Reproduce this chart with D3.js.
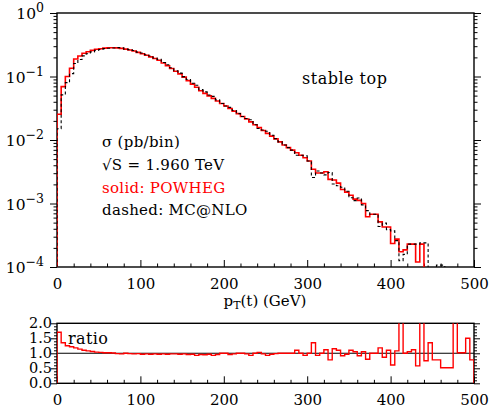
<!DOCTYPE html>
<html>
<head>
<meta charset="utf-8">
<script src="https://cdn.jsdelivr.net/npm/d3@7"></script>
<style>
  body { margin: 0; background: #fff; }
  text { font-family: "DejaVu Serif", serif; fill: #000; }
</style>
</head>
<body>
<div id="chart"></div>
<script>
// 5 GeV bins from 0 to 500 GeV
const binWidth = 5;
const xTicks = [0, 100, 200, 300, 400, 500];
const yTicksExp = [0, -1, -2, -3, -4];
const ratioTicks = ["0.0", "0.5", "1.0", "1.5", "2.0"];

// POWHEG, sigma (pb/bin), solid red
const powheg = [
  0.0254, 0.0692, 0.100, 0.135, 0.189, 0.210, 0.232, 0.246, 0.258, 0.268,
  0.274, 0.280, 0.284, 0.284, 0.282, 0.277, 0.270, 0.262, 0.252, 0.240,
  0.228, 0.216, 0.204, 0.192, 0.180, 0.163, 0.148, 0.134, 0.121, 0.110,
  0.0977, 0.0861, 0.0759, 0.0676, 0.0596, 0.0543, 0.0495, 0.0452, 0.0412, 0.0376,
  0.0343, 0.0313, 0.0285, 0.0260, 0.0234, 0.0214, 0.0193, 0.0174, 0.0157, 0.0141,
  0.0127, 0.0115, 0.0104, 0.00933, 0.00832, 0.00759, 0.00692, 0.00631, 0.00575, 0.00525,
  0.00468, 0.00347, 0.00302, 0.00302, 0.00316, 0.00240, 0.00234, 0.00209, 0.00166, 0.00151,
  0.00135, 0.00117, 0.00112, 0.00100, 0.000617, 0.000676, 0.000676, 0.000513, 0.000427, 0.000427,
  0.000234, 0.000275, 0.000174, 0.000186, 0.000229, 0.000229, 0.000120, 0.000229, 0, 0,
  0, 0, 0, 0, 0, 0, 0, 0, 0, 0
];

// MC@NLO, sigma (pb/bin), dashed black
const mcnlo = [
  0.0150, 0.0513, 0.0800, 0.111, 0.160, 0.185, 0.211, 0.228, 0.244, 0.258,
  0.266, 0.275, 0.278, 0.281, 0.285, 0.283, 0.270, 0.265, 0.257, 0.242,
  0.235, 0.220, 0.210, 0.196, 0.186, 0.166, 0.153, 0.137, 0.123, 0.113,
  0.0997, 0.0897, 0.0782, 0.0727, 0.0621, 0.0572, 0.0510, 0.0486, 0.0429, 0.0376,
  0.0343, 0.0326, 0.0291, 0.0260, 0.0234, 0.0218, 0.0208, 0.0174, 0.0152, 0.0144,
  0.0137, 0.0119, 0.0105, 0.00933, 0.00832, 0.00759, 0.00692, 0.00574, 0.00575, 0.00565,
  0.00468, 0.00257, 0.00325, 0.00302, 0.00282, 0.00308, 0.00203, 0.00190, 0.00180, 0.00156,
  0.00123, 0.00111, 0.00122, 0.000952, 0.000771, 0.000676, 0.000676, 0.000435, 0.000491, 0.000388,
  0.000370, 0.000260, 0.000126, 0.000158, 0.000229, 0.000229, 0.000229, 0.000240, 0.000240, 0,
  0, 0.000107, 0.000107, 0, 0, 0, 0, 0, 0, 0
];

// ratio POWHEG / MC@NLO
const ratio = [
  1.70, 1.35, 1.25, 1.22, 1.18, 1.14, 1.10, 1.08, 1.06, 1.04,
  1.03, 1.02, 1.02, 1.01, 0.99, 0.98, 1.00, 0.99, 0.98, 0.99,
  0.97, 0.98, 0.97, 0.98, 0.97, 0.98, 0.97, 0.98, 0.98, 0.97,
  0.98, 0.96, 0.97, 0.93, 0.96, 0.95, 0.97, 0.93, 0.96, 1.00,
  1.00, 0.96, 0.98, 1.00, 1.00, 0.98, 0.93, 1.00, 1.03, 0.98,
  0.93, 0.97, 0.99, 1.00, 1.00, 1.00, 1.00, 1.10, 1.00, 0.93,
  1.00, 1.35, 0.93, 1.00, 1.12, 0.78, 1.15, 1.10, 0.92, 0.97,
  1.10, 1.05, 0.92, 1.05, 0.80, 1.00, 1.00, 1.18, 0.87, 1.10,
  0.61, 1.08, 2.60, 1.00, 1.05, 1.12, 0.58, 2.60, 0.75, 1.35,
  0.78, 0.78, 0.52, 0.52, 0.52, 2.60, 1.02, 1.02, 1.50, 0.78
];

const W = 491, H = 408;
const svg = d3.select("#chart").append("svg").attr("width", W).attr("height", H);

// Scales
const x = d3.scaleLinear().domain([0, 500]).range([57, 474]);
const y = d3.scaleLog().domain([1e-4, 1]).range([267, 13]);
const yr = d3.scaleLinear().domain([0, 2]).range([383.3, 323.3]);

// Clip regions
const defs = svg.append("defs");
defs.append("clipPath").attr("id", "clipMain").append("rect")
  .attr("x", 57).attr("y", 13).attr("width", 417).attr("height", 254);
defs.append("clipPath").attr("id", "clipRatio").append("rect")
  .attr("x", 57).attr("y", 323.3).attr("width", 417).attr("height", 60);

function styleAxis(g) {
  g.select(".domain").remove();
  g.selectAll("line").attr("stroke", "#000").attr("stroke-width", 1);
  g.selectAll("text").attr("font-family", "DejaVu Serif").attr("font-size", 15).attr("fill", "#000");
}

// ---------- main panel ----------
svg.append("rect").attr("x", 57).attr("y", 13).attr("width", 417).attr("height", 254)
  .attr("fill", "none").attr("stroke", "#000").attr("stroke-width", 1.4);

const minorX = d3.range(0, 501, 20).filter((d) => d % 100 !== 0);
svg.append("g").attr("transform", "translate(0,267)")
  .call(d3.axisBottom(x).tickValues(xTicks).tickSize(-7).tickPadding(11).tickFormat(d3.format("d")))
  .call(styleAxis);
svg.append("g").attr("transform", "translate(0,267)")
  .call(d3.axisBottom(x).tickValues(minorX).tickSize(-3.5).tickFormat(""))
  .call(styleAxis);

const majorY = yTicksExp.map((e) => Math.pow(10, e));
const minorY = [];
[-4, -3, -2, -1].forEach((e) => { for (let k = 2; k <= 9; k++) minorY.push(k * Math.pow(10, e)); });

[[57, d3.axisRight], [474, d3.axisLeft]].forEach(([px, ax]) => {
  svg.append("g").attr("transform", `translate(${px},0)`)
    .call(ax(y).tickValues(majorY).tickSize(-7).tickFormat(""))
    .call(styleAxis);
  svg.append("g").attr("transform", `translate(${px},0)`)
    .call(ax(y).tickValues(minorY).tickSize(-3.5).tickFormat(""))
    .call(styleAxis);
});

// y labels 10^n
yTicksExp.forEach((e) => {
  const t = svg.append("text")
    .attr("x", 44).attr("y", y(Math.pow(10, e)) + 6)
    .attr("text-anchor", "end").attr("font-size", 15.5);
  t.append("tspan").text("10");
  t.append("tspan").attr("dy", -7).attr("font-size", 12.5).text(e === 0 ? "0" : "\u2212" + Math.abs(e));
});

// histogram step path
function stepPoints(vals, floor, stopAtEnd) {
  let last = vals.length - 1;
  if (stopAtEnd) { while (last > 0 && vals[last] <= 0) last--; last = Math.min(vals.length - 1, last + 1); }
  const pts = [[0, floor]];
  for (let i = 0; i <= last; i++) {
    pts.push([i * binWidth, vals[i]]);
    pts.push([(i + 1) * binWidth, vals[i]]);
  }
  if (!stopAtEnd) pts.push([500, floor]);
  return pts;
}

const floorMain = 0.8e-4;
const lineMain = d3.line()
  .x((d) => x(d[0]))
  .y((d) => y(Math.max(d[1], floorMain)));

const main = svg.append("g").attr("clip-path", "url(#clipMain)");
main.append("path")
  .attr("d", lineMain(stepPoints(powheg, floorMain, true)))
  .attr("fill", "none").attr("stroke", "#ff0000").attr("stroke-width", 1.6);
main.append("path")
  .attr("d", lineMain(stepPoints(mcnlo, floorMain, false)))
  .attr("fill", "none").attr("stroke", "#000").attr("stroke-width", 1.1)
  .attr("stroke-dasharray", "3,2.5");

// annotations
svg.append("text").attr("x", 302).attr("y", 84).attr("font-size", 16)
  .attr("letter-spacing", 0.5).text("stable top");
const ann = [
  ["\u03c3 (pb/bin)", "#000", 147],
  ["\u221aS = 1.960 TeV", "#000", 169.5],
  ["solid: POWHEG", "#ff0000", 192.5],
  ["dashed: MC@NLO", "#000", 214.5]
];
ann.forEach(([s, c, yy]) => {
  svg.append("text").attr("x", 102).attr("y", yy).attr("font-size", 15)
    .attr("letter-spacing", 0.3).style("fill", c).text(s);
});

// x axis title
const xt = svg.append("text").attr("x", 265).attr("y", 306)
  .attr("text-anchor", "middle").attr("font-size", 15);
xt.append("tspan").text("p");
xt.append("tspan").attr("dy", 3).attr("font-size", 11).text("T");
xt.append("tspan").attr("dy", -3).text("(t) (GeV)");

// ---------- ratio panel ----------
svg.append("rect").attr("x", 57).attr("y", 323.3).attr("width", 417).attr("height", 60)
  .attr("fill", "none").attr("stroke", "#000").attr("stroke-width", 1.4);

svg.append("g").attr("transform", "translate(0,383.3)")
  .call(d3.axisBottom(x).tickValues(xTicks).tickSize(-7).tickPadding(11).tickFormat(d3.format("d")))
  .call(styleAxis);
svg.append("g").attr("transform", "translate(0,383.3)")
  .call(d3.axisBottom(x).tickValues(minorX).tickSize(-3.5).tickFormat(""))
  .call(styleAxis);

const rMajor = ratioTicks.map(Number);
const rMinor = d3.range(0.1, 2.0, 0.1).filter((d) => Math.abs(d * 2 - Math.round(d * 2)) > 0.01);
[[57, d3.axisRight], [474, d3.axisLeft]].forEach(([px, ax]) => {
  svg.append("g").attr("transform", `translate(${px},0)`)
    .call(ax(yr).tickValues(rMajor).tickSize(-6).tickFormat(""))
    .call(styleAxis);
  svg.append("g").attr("transform", `translate(${px},0)`)
    .call(ax(yr).tickValues(rMinor).tickSize(-3).tickFormat(""))
    .call(styleAxis);
});
ratioTicks.forEach((s) => {
  svg.append("text").attr("x", 52).attr("y", yr(+s) + 5)
    .attr("text-anchor", "end").attr("font-size", 14.5).text(s);
});

svg.append("line")
  .attr("x1", x(0)).attr("x2", x(500)).attr("y1", yr(1)).attr("y2", yr(1))
  .attr("stroke", "#000").attr("stroke-width", 1.1);

const lineRatio = d3.line().x((d) => x(d[0])).y((d) => yr(d[1]));
svg.append("g").attr("clip-path", "url(#clipRatio)")
  .append("path")
  .attr("d", lineRatio(stepPoints(ratio, 0, false)))
  .attr("fill", "none").attr("stroke", "#ff0000").attr("stroke-width", 1.4);

svg.append("text").attr("x", 68).attr("y", 344).attr("font-size", 16)
  .attr("letter-spacing", 0.4).text("ratio");
</script>
</body>
</html>
